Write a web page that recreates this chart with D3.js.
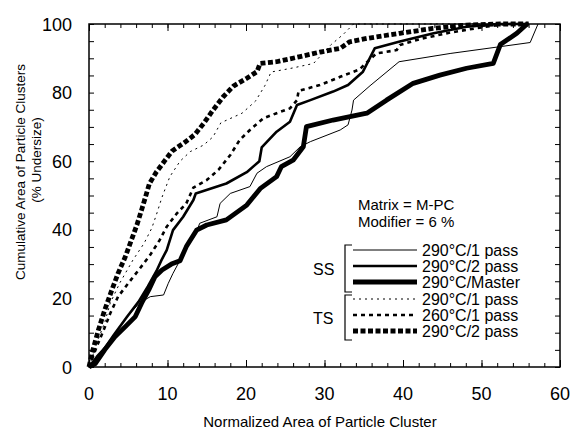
<!DOCTYPE html>
<html>
<head>
<meta charset="utf-8">
<script src="https://cdn.jsdelivr.net/npm/d3@7"></script>
<style>
  html, body { margin: 0; padding: 0; background: #fff; }
  svg { display: block; font-family: "Liberation Sans", Arial, Helvetica, sans-serif; }
</style>
</head>
<body>
<svg id="chart" width="574" height="430"></svg>
<script>
// Cumulative area distributions: [normalized area, % undersize]
const ss290OnePass = [[0,0],[1,3],[2,5.5],[3.2,9.5],[4.8,14.5],[6.4,18.6],[7.8,20.5],[9.5,21],[10.1,24.4],[10.7,27.3],[11.8,32],[12.6,35.5],[13.8,40],[14.1,41.9],[16.3,43.8],[16.7,47.7],[18,50.6],[20.5,52.6],[21.4,56.5],[22.6,58.4],[25.6,61.3],[26.9,64.2],[28.2,65.7],[32,69.1],[33,70.6],[33.5,74.9],[33.7,77.8],[35.8,82],[39.5,89],[46,91.4],[52.4,93.4],[56.2,94.6],[57.2,100]];
const ss290TwoPass = [[0,0],[1,3],[2,5.5],[3.2,9.5],[4.8,14.5],[6.3,19],[7.5,23.5],[8.6,28],[9.2,31],[9.9,34.1],[10.7,39.9],[12,43.8],[13.3,48.7],[13.6,50.6],[17.5,53.5],[20.1,56.8],[21.7,60],[22,64],[23.9,68.6],[25.6,71.5],[26.5,76.4],[28.2,77.8],[31.1,80.3],[33,82.2],[34.9,86.1],[36.4,92.9],[39.6,94.9],[43.9,97.3],[48.1,99.2],[52,100],[56,100]];
const ss290Master = [[0,0],[0.8,1],[2,5],[3.3,8.8],[4.6,11.7],[5.9,14.7],[6.7,18.6],[7.6,22.4],[8.4,26.3],[9.3,28.3],[10.5,30],[11.6,31],[12.4,35.1],[13.7,39.9],[15,41.4],[17.5,42.9],[20.1,47.2],[21.8,52],[23.9,55.5],[24.5,58.4],[26,60.3],[27.3,64.2],[27.7,70.1],[31.1,72],[35.4,74],[37.9,77.8],[41.3,82.7],[44.7,85.1],[48.1,87.1],[51.5,88.5],[52.4,94],[54.5,97.3],[55.8,100]];
const ts290OnePass = [[0,0],[1,7],[2,13],[2.7,18.6],[3.9,24.4],[5.6,31.2],[7,36],[8,40.5],[8.6,44.5],[9.3,49.5],[10.3,55.5],[11.6,60],[12.9,62.8],[14.6,64.7],[15.8,67.1],[16.8,71.2],[19.5,74],[21.2,77.5],[22.4,82],[23.2,86],[26,87.2],[28.6,88.5],[30.8,93.9],[32.4,97],[33.7,100],[56,100]];
const ts260OnePass = [[0,0],[1,6],[2,11.5],[2.7,15.6],[3.7,20.5],[5,24.4],[6.5,28.8],[7.8,32.7],[9,37],[9.9,40.9],[11.2,44.8],[12.4,47.7],[13.3,52.3],[15,54.5],[16.5,57.5],[18,61.8],[19.2,66.2],[20.5,69.1],[22.2,72.5],[23.9,74],[25.6,75.4],[26.5,77.8],[26.7,80.5],[29.4,82.2],[32,84.6],[34.5,86.8],[35,88],[36.6,91.4],[39.2,92.4],[39.6,93.9],[42.5,95.8],[46,97.5],[50,99],[53,100],[56,100]];
const ts290TwoPass = [[0,0],[0.5,5],[1.2,10.8],[2,16.6],[2.9,22.4],[3.7,27.3],[4.6,32],[5.4,37],[6.1,41.4],[6.7,45.8],[7.2,49.6],[7.7,53.5],[8.6,56.9],[9.7,60.3],[10.6,63],[12.2,65.5],[13.5,67.8],[14.6,71],[15.8,74.9],[17.1,78.8],[18.4,81.9],[20.1,84.2],[21.4,86.1],[21.8,88.5],[23.9,89],[26.9,90.5],[29.4,91.8],[32,92.9],[33.2,94.8],[35.4,95.8],[39.6,97.3],[43.8,98.7],[48.1,99.7],[52.4,100],[56,100]];

const xTicks = [0, 10, 20, 30, 40, 50, 60];
const yTicks = [0, 20, 40, 60, 80, 100];
const legendLabels = ["290°C/1 pass", "290°C/2 pass", "290°C/Master", "290°C/1 pass", "260°C/1 pass", "290°C/2 pass"];
const groupLabels = ["SS", "TS"];
const noteLines = ["Matrix = M-PC", "Modifier = 6 %"];

const series = [
  { data: ss290OnePass, width: 1,   dash: null },
  { data: ss290TwoPass, width: 2.6, dash: null },
  { data: ss290Master,  width: 4.8, dash: null },
  { data: ts290OnePass, width: 1,   dash: "2,4" },
  { data: ts260OnePass, width: 2.6, dash: "4,4" },
  { data: ts290TwoPass, width: 4.8, dash: "5,2.5" }
];

const svg = d3.select("#chart");
const plot = { left: 89, right: 560, top: 24, bottom: 367 };
const x = d3.scaleLinear().domain([0, 60]).range([plot.left, plot.right]);
const y = d3.scaleLinear().domain([0, 100]).range([plot.bottom, plot.top]);

// Curves
const line = d3.line().x(d => x(d[0])).y(d => y(d[1]));
const curves = svg.append("g");
series.forEach(s => {
  curves.append("path")
    .attr("d", line(s.data))
    .attr("fill", "none")
    .attr("stroke", "#000")
    .attr("stroke-width", s.width)
    .attr("stroke-dasharray", s.dash)
    .attr("stroke-linejoin", "round");
});

// Frame with inward ticks on all four sides
const xMinor = d3.range(0, 61, 2);
const yMinor = d3.range(0, 101, 5);
const axes = svg.append("g");
axes.append("g").attr("transform", `translate(0,${plot.bottom})`)
  .call(d3.axisBottom(x).tickValues(xMinor).tickSize(-4).tickFormat(""));
axes.append("g").attr("transform", `translate(0,${plot.bottom})`)
  .call(d3.axisBottom(x).tickValues(xTicks).tickSize(-7).tickFormat(""));
axes.append("g").attr("transform", `translate(0,${plot.top})`)
  .call(d3.axisTop(x).tickValues(xMinor).tickSize(-4).tickFormat(""));
axes.append("g").attr("transform", `translate(0,${plot.top})`)
  .call(d3.axisTop(x).tickValues(xTicks).tickSize(-7).tickFormat(""));
axes.append("g").attr("transform", `translate(${plot.left},0)`)
  .call(d3.axisLeft(y).tickValues(yMinor).tickSize(-5).tickFormat(""));
axes.append("g").attr("transform", `translate(${plot.right},0)`)
  .call(d3.axisRight(y).tickValues(yMinor).tickSize(-5).tickFormat(""));
axes.selectAll(".domain").remove();
axes.selectAll("line").attr("stroke", "#000").attr("stroke-width", 1);
svg.append("rect")
  .attr("x", plot.left).attr("y", plot.top)
  .attr("width", plot.right - plot.left).attr("height", plot.bottom - plot.top)
  .attr("fill", "none").attr("stroke", "#000").attr("stroke-width", 1.5);

// Tick labels
svg.append("g").selectAll("text").data(xTicks).join("text")
  .attr("x", d => x(d)).attr("y", 400)
  .attr("text-anchor", "middle").attr("font-size", 18)
  .text(d => d);
svg.append("g").selectAll("text").data(yTicks).join("text")
  .attr("x", 72).attr("y", d => y(d) + 6.5)
  .attr("text-anchor", "end").attr("font-size", 18)
  .text(d => d);

// Axis titles
svg.append("text")
  .attr("x", 320).attr("y", 427)
  .attr("text-anchor", "middle").attr("font-size", 15)
  .text("Normalized Area of Particle Cluster");
svg.append("text")
  .attr("transform", "translate(25,172) rotate(-90)")
  .attr("text-anchor", "middle").attr("font-size", 13.5)
  .text("Cumulative Area of Particle Clusters");
svg.append("text")
  .attr("transform", "translate(41,160) rotate(-90)")
  .attr("text-anchor", "middle").attr("font-size", 13.5)
  .text("(% Undersize)");

// Notes
svg.append("g").selectAll("text").data(noteLines).join("text")
  .attr("x", 358).attr("y", (d, i) => 210 + i * 17)
  .attr("font-size", 15)
  .text(d => d);

// Legend
const rowY = [250, 266, 282, 299, 315, 331];
const legend = svg.append("g");
series.forEach((s, i) => {
  legend.append("line")
    .attr("x1", 353).attr("x2", 417)
    .attr("y1", rowY[i]).attr("y2", rowY[i])
    .attr("stroke", "#000")
    .attr("stroke-width", s.width)
    .attr("stroke-dasharray", s.dash);
  legend.append("text")
    .attr("x", 422).attr("y", rowY[i] + 6)
    .attr("font-size", 16)
    .text(legendLabels[i]);
});
// Group brackets
const brackets = [[245, 292], [295, 340]];
brackets.forEach((b, i) => {
  legend.append("path")
    .attr("d", `M352,${b[0]}H345V${b[1]}H352`)
    .attr("fill", "none").attr("stroke", "#000").attr("stroke-width", 1.2);
  legend.append("text")
    .attr("x", 313).attr("y", (b[0] + b[1]) / 2 + 6)
    .attr("font-size", 16)
    .text(groupLabels[i]);
});
</script>
</body>
</html>
